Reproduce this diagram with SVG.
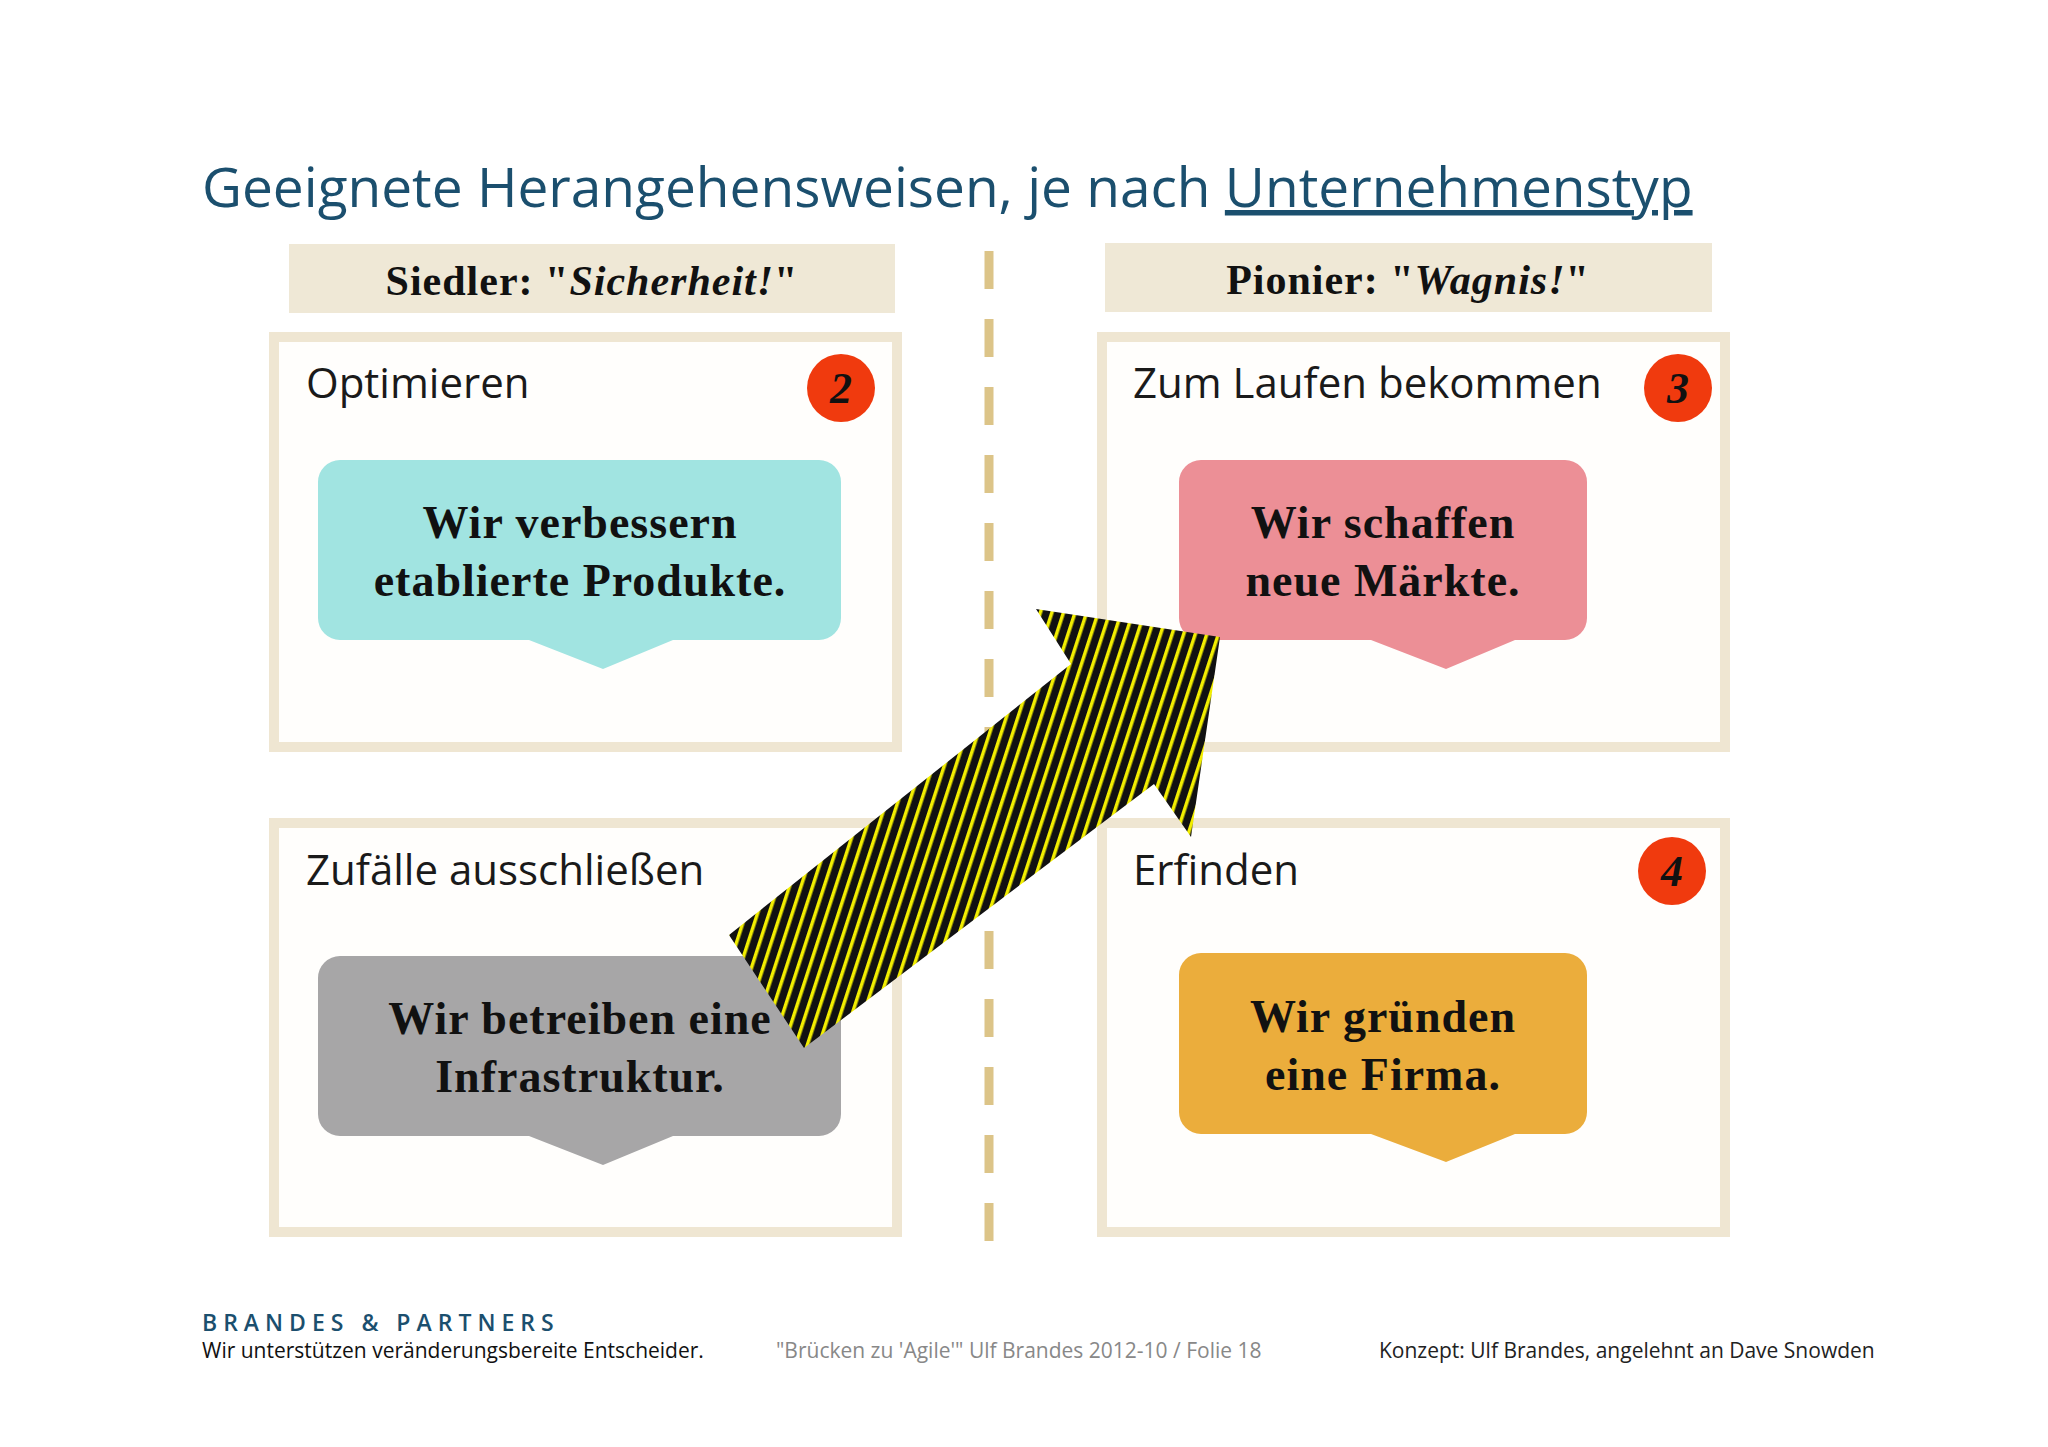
<svg xmlns="http://www.w3.org/2000/svg" width="2048" height="1447" viewBox="0 0 2048 1447">
<defs>
<style>
.hdr{fill:#efe8d6}
.q{fill:#fffefc;stroke:#efe6d2;stroke-width:10}
.lbl{font-family:"Open Sans","Noto Sans",sans-serif;font-size:42px;fill:#1a1a1a}
.bt{font-family:"Liberation Serif",serif;font-weight:bold;font-size:46px;fill:#111;text-anchor:middle;letter-spacing:1px}
.ht{font-family:"Liberation Serif",serif;font-weight:bold;font-size:42px;fill:#111;text-anchor:middle;letter-spacing:1px}
.num{font-family:"Liberation Serif",serif;font-weight:bold;font-style:italic;font-size:44px;fill:#111;text-anchor:middle}
.ft{font-family:"Open Sans","Noto Sans",sans-serif;font-size:21px}
</style>
<pattern id="stripe" width="11" height="11" patternUnits="userSpaceOnUse" patternTransform="rotate(18)">
<rect width="11" height="11" fill="#111"/><rect width="3.5" height="11" fill="#f2ee00"/>
</pattern>
</defs>
<rect width="2048" height="1447" fill="#fff"/>
<text x="202" y="207" font-family="Open Sans, Noto Sans, sans-serif" font-size="55" fill="#1b4f6e">Geeignete Herangehensweisen, je nach <tspan text-decoration="underline">Unternehmenstyp</tspan></text>

<g id="hdr-left"><rect class="hdr" x="289" y="244" width="606" height="69"/><text class="ht" x="592" y="295">Siedler: "<tspan font-style="italic">Sicherheit!</tspan>"</text></g>
<g id="hdr-right"><rect class="hdr" x="1105" y="243" width="607" height="69"/><text class="ht" x="1408" y="294">Pionier: "<tspan font-style="italic">Wagnis!</tspan>"</text></g>

<g id="divider"><line x1="989" y1="251" x2="989" y2="1241" stroke="#dcc488" stroke-width="9" stroke-dasharray="38,30"/></g>

<g id="q-optimieren">
<rect class="q" x="274" y="337" width="623" height="410"/>
<text class="lbl" x="306" y="398">Optimieren</text>
<circle cx="841" cy="388" r="34" fill="#f03a0e"/><text class="num" x="841" y="403">2</text>
<path d="M340 460H819a22 22 0 0 1 22 22V618a22 22 0 0 1-22 22H673L603 669L529 640H340a22 22 0 0 1-22-22V482a22 22 0 0 1 22-22Z" fill="#a1e4e1"/>
<text class="bt" x="580" y="538">Wir verbessern</text><text class="bt" x="580" y="596">etablierte Produkte.</text>
</g>

<g id="q-laufen">
<rect class="q" x="1102" y="337" width="623" height="410"/>
<text class="lbl" x="1133" y="398">Zum Laufen bekommen</text>
<circle cx="1678" cy="388" r="34" fill="#f03a0e"/><text class="num" x="1678" y="403">3</text>
<path d="M1201 460H1565a22 22 0 0 1 22 22V618a22 22 0 0 1-22 22H1515L1446 669L1371 640H1201a22 22 0 0 1-22-22V482a22 22 0 0 1 22-22Z" fill="#ec8f96"/>
<text class="bt" x="1383" y="538">Wir schaffen</text><text class="bt" x="1383" y="596">neue Märkte.</text>
</g>

<g id="q-zufaelle">
<rect class="q" x="274" y="823" width="623" height="409"/>
<text class="lbl" x="306" y="885">Zufälle ausschließen</text>
<path d="M340 956H819a22 22 0 0 1 22 22V1114a22 22 0 0 1-22 22H673L603 1165L529 1136H340a22 22 0 0 1-22-22V978a22 22 0 0 1 22-22Z" fill="#a7a6a7"/>
<text class="bt" x="580" y="1034">Wir betreiben eine</text><text class="bt" x="580" y="1092">Infrastruktur.</text>
</g>

<g id="q-erfinden">
<rect class="q" x="1102" y="823" width="623" height="409"/>
<text class="lbl" x="1133" y="885">Erfinden</text>
<circle cx="1672" cy="871" r="34" fill="#f03a0e"/><text class="num" x="1672" y="886">4</text>
<path d="M1201 953H1565a22 22 0 0 1 22 22V1112a22 22 0 0 1-22 22H1515L1446 1162L1371 1134H1201a22 22 0 0 1-22-22V975a22 22 0 0 1 22-22Z" fill="#ebad3c"/>
<text class="bt" x="1383" y="1032">Wir gründen</text><text class="bt" x="1383" y="1090">eine Firma.</text>
</g>

<g id="connectors">
<polygon points="729,935 1071,664 1036,609 1220,637 1191,837 1154,784 804,1048" fill="url(#stripe)"/>
</g>

<g id="footer">
<text x="202" y="1331" font-family="Open Sans, Noto Sans, sans-serif" font-size="23" font-weight="600" letter-spacing="6" fill="#1b4f6e">BRANDES &amp; PARTNERS</text>
<text class="ft" x="202" y="1358" fill="#111">Wir unterstützen veränderungsbereite Entscheider.</text>
<text class="ft" x="776" y="1358" fill="#888">"Brücken zu 'Agile'" Ulf Brandes 2012-10 / Folie 18</text>
<text class="ft" x="1379" y="1358" fill="#222">Konzept: Ulf Brandes, angelehnt an Dave Snowden</text>
</g>
</svg>
